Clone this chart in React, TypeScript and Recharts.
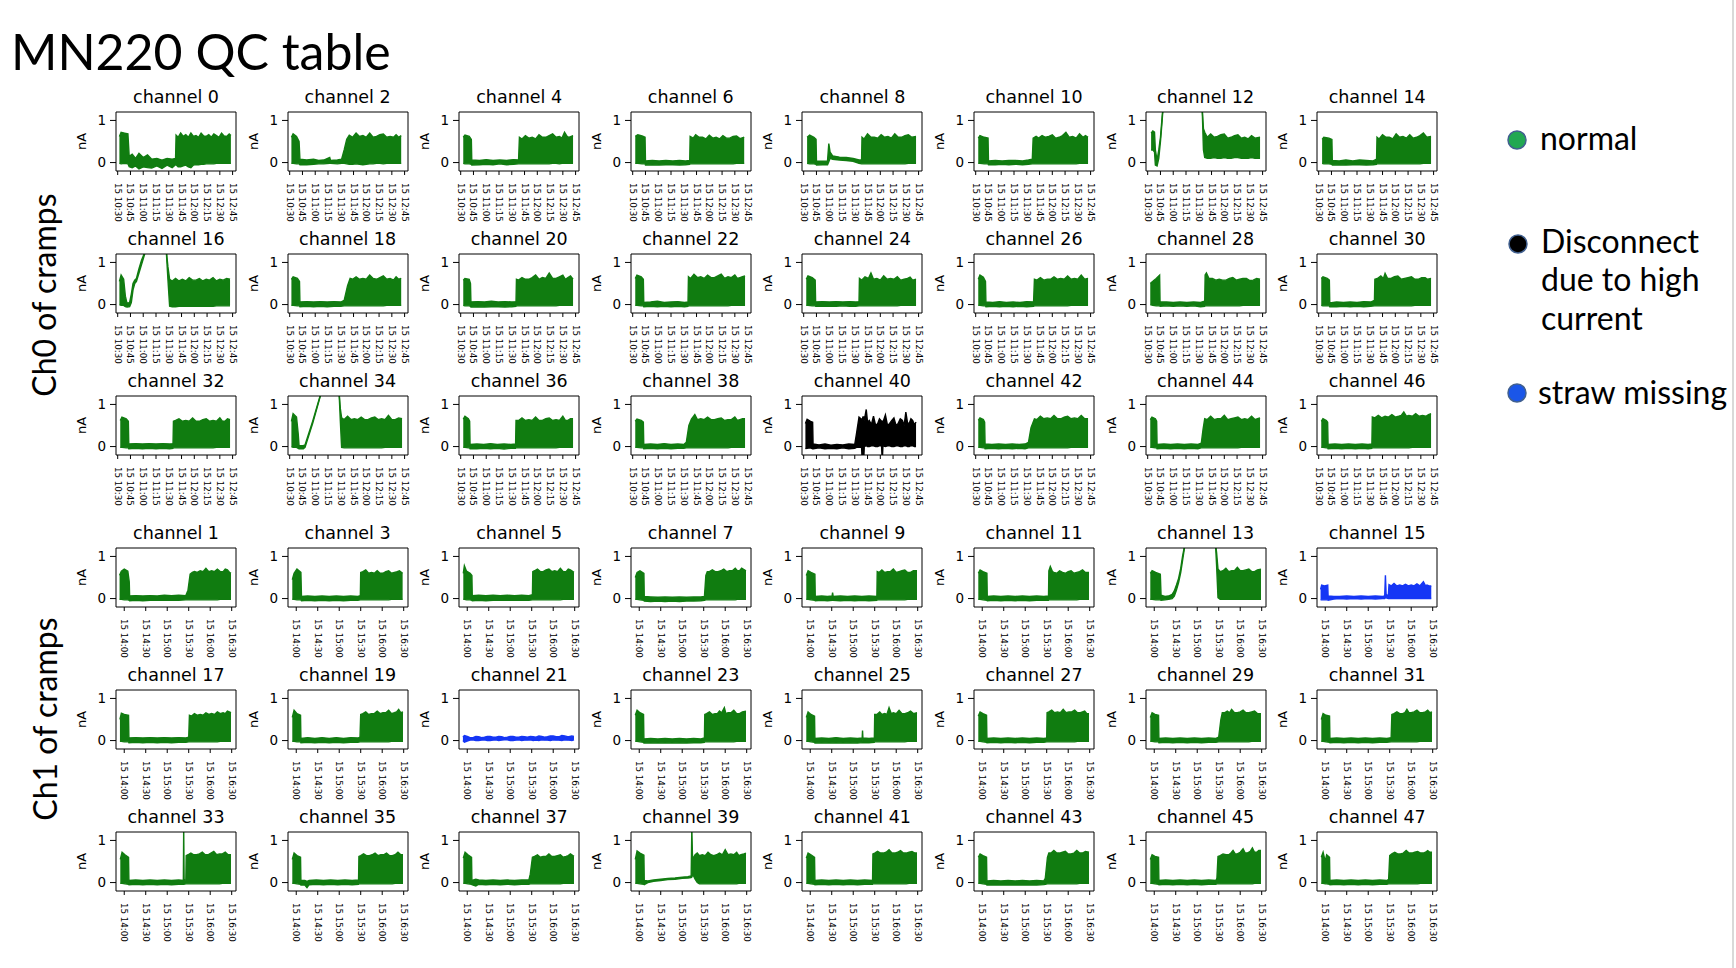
import React from 'react';
import { ComposedChart, Area, XAxis, YAxis, ReferenceArea } from 'recharts';

// ---------- tick definitions ----------
// group A (even channels): minutes after 10:00 ; group B (odd channels): minutes after 14:00
const TICKS_A = [30, 45, 60, 75, 90, 105, 120, 135, 150, 165];
const TICK_LABELS_A = ['15 10:30', '15 10:45', '15 11:00', '15 11:15', '15 11:30', '15 11:45', '15 12:00', '15 12:15', '15 12:30', '15 12:45'];
const TICKS_B = [0, 30, 60, 90, 120, 150];
const TICK_LABELS_B = ['15 14:00', '15 14:30', '15 15:00', '15 15:30', '15 16:00', '15 16:30'];
const Y_TICKS = [0, 1];
const Y_TICK_LABELS = ['0', '1'];

// ---------- channel data: [time, low, high] envelope points (nA) ----------
const ch0 = [[32,-0.02,0.62],[34,-0.03,0.72],[38,-0.02,0.7],[42,-0.03,0.68],[43.5,-0.1,0.15],[47,-0.12,0.2],[51,-0.08,0.1],[55,-0.15,0.22],[60,-0.1,0.12],[65,-0.12,0.18],[70,-0.13,0.08],[76,-0.08,0.1],[82,-0.14,0.06],[88,-0.06,0.1],[94,-0.12,0.08],[98,-0.05,0.1],[98.6,-0.05,0.65],[101,-0.1,0.6],[104,-0.1,0.7],[107,-0.08,0.62],[110,-0.06,0.66],[113,-0.1,0.6],[116,-0.12,0.7],[119,-0.06,0.62],[122,-0.05,0.64],[125,-0.05,0.6],[128,-0.04,0.7],[131,-0.04,0.63],[134,-0.03,0.62],[137,-0.03,0.66],[140,-0.03,0.6],[143,-0.03,0.68],[146,-0.02,0.64],[149,-0.02,0.6],[152,-0.02,0.7],[155,-0.02,0.63],[158,-0.02,0.62],[161,-0.02,0.68],[163,-0.02,0.64]];
const ch2 = [[32,-0.02,0.6],[34,-0.02,0.68],[38,-0.03,0.62],[41,-0.03,0.5],[42,-0.05,0.08],[50,-0.05,0.06],[58,-0.04,0.08],[64,-0.03,0.05],[70,-0.03,0.06],[77,-0.02,0.12],[78,-0.02,0.05],[86,-0.03,0.06],[91,-0.02,0.08],[94,-0.02,0.3],[97,-0.03,0.55],[100,-0.04,0.65],[104,-0.04,0.6],[108,-0.03,0.7],[112,-0.04,0.62],[116,-0.05,0.64],[120,-0.04,0.6],[124,-0.03,0.7],[128,-0.03,0.6],[132,-0.02,0.62],[136,-0.02,0.66],[140,-0.03,0.68],[144,-0.02,0.6],[148,-0.02,0.62],[152,-0.02,0.6],[155,-0.02,0.66],[158,-0.02,0.6],[161,-0.02,0.64]];
const ch4 = [[33,-0.02,0.6],[35,-0.03,0.65],[40,-0.03,0.62],[42.5,-0.04,0.55],[43,-0.06,0.06],[52,-0.05,0.05],[60,-0.04,0.07],[68,-0.05,0.05],[76,-0.03,0.06],[84,-0.05,0.05],[92,-0.04,0.07],[98,-0.03,0.06],[99,-0.03,0.6],[102,-0.03,0.56],[106,-0.03,0.64],[110,-0.03,0.58],[114,-0.03,0.6],[118,-0.03,0.56],[122,-0.03,0.66],[126,-0.03,0.6],[130,-0.03,0.6],[134,-0.03,0.64],[138,-0.02,0.68],[142,-0.02,0.6],[146,-0.03,0.62],[149,-0.02,0.58],[152,-0.02,0.72],[155,-0.02,0.62],[157,-0.02,0.6],[162,-0.02,0.64]];
const ch6 = [[33,-0.02,0.62],[36,-0.02,0.66],[41,-0.03,0.63],[44.5,-0.03,0.6],[45,-0.06,0.04],[53,-0.05,0.05],[61,-0.06,0.04],[69,-0.05,0.05],[77,-0.05,0.04],[85,-0.06,0.05],[92,-0.05,0.04],[97,-0.04,0.05],[97.5,-0.03,0.62],[101,-0.03,0.58],[104,-0.03,0.66],[108,-0.03,0.6],[112,-0.03,0.6],[116,-0.03,0.56],[120,-0.03,0.65],[124,-0.03,0.58],[128,-0.03,0.6],[132,-0.03,0.56],[136,-0.03,0.64],[140,-0.03,0.58],[144,-0.03,0.58],[148,-0.03,0.62],[152,-0.02,0.63],[156,-0.02,0.57],[161,-0.02,0.6]];
const ch8 = [[34,-0.02,0.6],[37,-0.03,0.65],[42,-0.03,0.6],[44.5,-0.04,0.55],[45,-0.06,0.03],[52,-0.05,0.03],[58,-0.05,0.04],[59.5,0.02,0.45],[61,0.1,0.25],[64,0.08,0.16],[72,0.06,0.13],[80,0.05,0.12],[88,0.03,0.1],[95,-0.02,0.06],[98,-0.03,0.06],[98.5,-0.03,0.6],[101,-0.03,0.56],[105,-0.03,0.68],[109,-0.03,0.6],[113,-0.03,0.6],[117,-0.03,0.58],[121,-0.03,0.66],[125,-0.03,0.6],[129,-0.03,0.62],[133,-0.03,0.58],[137,-0.03,0.68],[141,-0.03,0.6],[145,-0.03,0.6],[149,-0.03,0.64],[153,-0.02,0.66],[157,-0.02,0.6],[162,-0.02,0.62]];
const ch10 = [[33,-0.02,0.58],[35,-0.02,0.64],[40,-0.03,0.6],[44.5,-0.03,0.58],[45,-0.05,0.04],[53,-0.05,0.05],[61,-0.04,0.04],[69,-0.05,0.05],[77,-0.04,0.05],[85,-0.05,0.04],[92,-0.04,0.06],[96.5,-0.03,0.08],[97.5,-0.03,0.58],[101,-0.03,0.62],[104,-0.03,0.58],[108,-0.03,0.64],[112,-0.03,0.6],[116,-0.03,0.62],[120,-0.03,0.66],[124,-0.03,0.58],[128,-0.03,0.6],[132,-0.03,0.64],[136,-0.03,0.72],[140,-0.03,0.6],[144,-0.03,0.62],[148,-0.03,0.58],[152,-0.02,0.68],[156,-0.02,0.6],[159,-0.02,0.64],[162,-0.02,0.6]];
const ch12 = [[34,0.3,0.7],[36,0.3,0.75],[38,0.25,0.72],[39,-0.06,0.3],[41,-0.08,0.05],[43,0.1,0.3],[45,0.5,0.6],[47,1.0,1.1],[48,1.3,1.3],[94,1.3,1.3],[95.5,0.3,0.8],[97,0.12,0.72],[100,0.1,0.6],[104,0.1,0.68],[108,0.12,0.6],[112,0.1,0.62],[116,0.1,0.66],[120,0.12,0.68],[124,0.1,0.58],[128,0.1,0.6],[132,0.12,0.64],[136,0.12,0.66],[140,0.1,0.58],[144,0.1,0.6],[148,0.1,0.56],[152,0.12,0.64],[156,0.1,0.58],[162,0.1,0.6]];
const ch14 = [[34,-0.02,0.55],[36,-0.03,0.6],[42,-0.03,0.58],[45.5,-0.04,0.55],[46,-0.06,0.05],[54,-0.05,0.04],[62,-0.06,0.06],[70,-0.05,0.04],[78,-0.05,0.06],[86,-0.06,0.05],[94,-0.05,0.04],[98,-0.04,0.08],[98.5,-0.03,0.6],[101,-0.03,0.56],[105,-0.03,0.66],[109,-0.03,0.6],[113,-0.03,0.6],[117,-0.03,0.56],[121,-0.03,0.68],[125,-0.03,0.6],[129,-0.03,0.62],[133,-0.03,0.58],[137,-0.03,0.66],[141,-0.03,0.58],[145,-0.03,0.6],[149,-0.03,0.64],[153,-0.02,0.7],[157,-0.02,0.6],[162,-0.02,0.62]];
const ch16 = [[32,0.0,0.55],[34,-0.02,0.7],[37,-0.02,0.6],[39,-0.05,0.2],[41,-0.06,0.02],[44,-0.05,0.05],[46,0.05,0.25],[48,0.35,0.5],[50,0.5,0.58],[52,0.55,0.62],[55,0.75,0.85],[58,0.95,1.05],[61,1.15,1.2],[63,1.3,1.3],[87,1.3,1.3],[89,0.6,0.9],[91,-0.04,0.6],[94,-0.05,0.56],[98,-0.05,0.62],[102,-0.04,0.56],[106,-0.04,0.6],[110,-0.04,0.56],[114,-0.04,0.64],[118,-0.04,0.58],[122,-0.04,0.58],[126,-0.04,0.62],[130,-0.04,0.56],[134,-0.04,0.6],[138,-0.04,0.58],[142,-0.04,0.64],[146,-0.03,0.56],[150,-0.03,0.6],[154,-0.03,0.58],[158,-0.03,0.62],[162,-0.03,0.6]];
const ch18 = [[32,-0.02,0.6],[34,-0.02,0.66],[39,-0.03,0.62],[41.5,-0.03,0.55],[42,-0.05,0.06],[50,-0.04,0.07],[58,-0.05,0.06],[66,-0.04,0.07],[74,-0.05,0.06],[82,-0.04,0.07],[90,-0.04,0.06],[94,-0.03,0.1],[98,-0.03,0.45],[101,-0.03,0.62],[104,-0.03,0.6],[108,-0.03,0.66],[112,-0.03,0.6],[116,-0.03,0.62],[120,-0.03,0.6],[124,-0.03,0.7],[128,-0.03,0.62],[132,-0.03,0.6],[136,-0.03,0.64],[140,-0.03,0.68],[144,-0.02,0.6],[148,-0.02,0.62],[152,-0.02,0.58],[155,-0.02,0.66],[158,-0.02,0.6],[161,-0.02,0.62]];
const ch20 = [[33,-0.02,0.58],[35,-0.03,0.62],[40,-0.03,0.6],[41.5,-0.04,0.5],[42,-0.06,0.06],[50,-0.05,0.07],[58,-0.06,0.06],[66,-0.05,0.08],[74,-0.05,0.06],[82,-0.06,0.07],[90,-0.05,0.06],[95,-0.04,0.07],[95.5,-0.03,0.6],[98,-0.03,0.58],[102,-0.03,0.64],[106,-0.03,0.6],[110,-0.03,0.6],[114,-0.03,0.64],[118,-0.03,0.7],[122,-0.03,0.6],[126,-0.03,0.64],[130,-0.03,0.62],[134,-0.03,0.75],[138,-0.03,0.62],[142,-0.03,0.62],[146,-0.02,0.66],[150,-0.02,0.7],[153,-0.02,0.6],[156,-0.02,0.64],[159,-0.02,0.68],[162,-0.02,0.6]];
const ch22 = [[33,-0.02,0.62],[35,-0.02,0.7],[40,-0.03,0.66],[42.5,-0.03,0.6],[43,-0.05,0.05],[51,-0.04,0.06],[59,-0.05,0.08],[67,-0.04,0.05],[75,-0.05,0.06],[83,-0.04,0.07],[91,-0.05,0.05],[95,-0.04,0.06],[95.5,-0.03,0.66],[98,-0.03,0.62],[102,-0.03,0.72],[106,-0.03,0.64],[110,-0.03,0.66],[114,-0.03,0.62],[118,-0.03,0.7],[122,-0.03,0.64],[126,-0.03,0.64],[130,-0.03,0.68],[134,-0.03,0.72],[138,-0.03,0.62],[142,-0.03,0.66],[146,-0.02,0.64],[150,-0.02,0.7],[153,-0.02,0.62],[156,-0.02,0.64],[159,-0.02,0.66],[162,-0.02,0.68]];
const ch24 = [[33,-0.02,0.6],[35,-0.02,0.68],[40,-0.03,0.64],[43.5,-0.03,0.58],[44,-0.04,0.06],[52,-0.04,0.07],[60,-0.04,0.06],[68,-0.04,0.07],[76,-0.03,0.06],[84,-0.04,0.07],[91,-0.04,0.06],[95,-0.03,0.07],[95.5,-0.03,0.62],[98,-0.03,0.58],[102,-0.03,0.66],[106,-0.03,0.62],[109,-0.03,0.75],[112,-0.03,0.6],[116,-0.03,0.62],[120,-0.03,0.58],[124,-0.03,0.68],[128,-0.03,0.6],[132,-0.03,0.62],[136,-0.03,0.6],[140,-0.03,0.66],[144,-0.02,0.58],[148,-0.02,0.6],[152,-0.02,0.62],[155,-0.02,0.65],[158,-0.02,0.58],[162,-0.02,0.6]];
const ch26 = [[33,-0.02,0.6],[35,-0.02,0.7],[39,-0.03,0.65],[41.5,-0.03,0.55],[42,-0.05,0.06],[50,-0.04,0.05],[58,-0.05,0.07],[66,-0.04,0.05],[74,-0.05,0.06],[82,-0.04,0.05],[90,-0.05,0.07],[98,-0.04,0.06],[99,-0.03,0.6],[102,-0.03,0.58],[106,-0.03,0.64],[110,-0.03,0.58],[114,-0.03,0.6],[118,-0.03,0.6],[122,-0.03,0.66],[126,-0.03,0.6],[130,-0.03,0.62],[134,-0.03,0.6],[138,-0.03,0.68],[142,-0.02,0.6],[146,-0.02,0.62],[150,-0.02,0.6],[154,-0.02,0.7],[158,-0.02,0.6],[162,-0.02,0.62]];
const ch28 = [[33,0.0,0.5],[36,-0.02,0.55],[40,-0.03,0.62],[44,-0.03,0.7],[44.5,-0.04,0.06],[52,-0.03,0.06],[60,-0.04,0.05],[68,-0.03,0.06],[76,-0.04,0.05],[84,-0.03,0.06],[92,-0.05,0.05],[97,-0.04,0.08],[97.5,-0.03,0.7],[99,-0.03,0.75],[102,-0.03,0.62],[106,-0.03,0.62],[110,-0.03,0.58],[114,-0.03,0.6],[118,-0.03,0.58],[122,-0.03,0.58],[126,-0.03,0.62],[130,-0.03,0.64],[134,-0.03,0.58],[138,-0.03,0.6],[142,-0.02,0.62],[146,-0.02,0.62],[150,-0.02,0.57],[154,-0.02,0.58],[158,-0.02,0.62],[162,-0.02,0.6]];
const ch30 = [[33,-0.02,0.62],[35,-0.03,0.66],[40,-0.03,0.62],[42.5,-0.03,0.58],[43,-0.05,0.04],[51,-0.05,0.06],[59,-0.04,0.05],[67,-0.05,0.06],[75,-0.04,0.05],[83,-0.05,0.07],[91,-0.04,0.06],[95.5,-0.03,0.1],[96,-0.03,0.6],[99,-0.03,0.62],[103,-0.03,0.68],[106,-0.03,0.62],[108,-0.03,0.74],[111,-0.03,0.62],[115,-0.03,0.62],[119,-0.03,0.66],[123,-0.03,0.68],[127,-0.03,0.6],[131,-0.03,0.62],[135,-0.03,0.64],[139,-0.03,0.66],[143,-0.02,0.6],[147,-0.02,0.6],[151,-0.02,0.64],[155,-0.02,0.64],[158,-0.02,0.6],[162,-0.02,0.62]];
const ch32 = [[33,-0.02,0.62],[35,-0.02,0.7],[40,-0.03,0.66],[42.5,-0.03,0.6],[43,-0.05,0.06],[51,-0.04,0.07],[59,-0.05,0.06],[67,-0.04,0.07],[75,-0.05,0.06],[83,-0.04,0.07],[91,-0.05,0.06],[95,-0.04,0.07],[95.5,-0.03,0.6],[98,-0.03,0.62],[102,-0.03,0.66],[106,-0.03,0.6],[110,-0.03,0.62],[114,-0.03,0.6],[118,-0.03,0.68],[122,-0.03,0.6],[126,-0.03,0.6],[130,-0.03,0.64],[134,-0.03,0.66],[138,-0.03,0.6],[142,-0.03,0.62],[146,-0.02,0.6],[150,-0.02,0.68],[153,-0.02,0.6],[156,-0.02,0.6],[159,-0.02,0.66],[162,-0.02,0.64]];
const ch34 = [[32,0.0,0.6],[34,-0.02,0.78],[38,-0.02,0.7],[40,-0.04,0.3],[41,-0.05,0.02],[46,-0.05,0.02],[48,-0.02,0.04],[57,0.55,0.6],[66,1.2,1.22],[67,1.3,1.3],[88,1.3,1.3],[89.5,0.6,0.9],[91,-0.02,0.68],[94,-0.03,0.64],[98,-0.03,0.72],[102,-0.03,0.64],[106,-0.03,0.66],[110,-0.03,0.64],[114,-0.03,0.7],[118,-0.03,0.64],[122,-0.03,0.64],[126,-0.03,0.68],[130,-0.03,0.7],[134,-0.03,0.64],[138,-0.03,0.66],[142,-0.02,0.64],[146,-0.02,0.74],[150,-0.02,0.64],[154,-0.02,0.64],[158,-0.02,0.68],[162,-0.02,0.66]];
const ch36 = [[33,-0.02,0.65],[35,-0.02,0.72],[39,-0.03,0.66],[40.5,-0.03,0.6],[41,-0.05,0.05],[49,-0.05,0.06],[57,-0.04,0.05],[65,-0.05,0.07],[73,-0.04,0.05],[81,-0.06,0.06],[89,-0.04,0.05],[94.5,-0.04,0.06],[95,-0.03,0.62],[98,-0.03,0.62],[102,-0.03,0.68],[106,-0.03,0.62],[110,-0.03,0.64],[114,-0.03,0.62],[118,-0.03,0.7],[122,-0.03,0.62],[126,-0.03,0.62],[130,-0.03,0.66],[134,-0.03,0.68],[138,-0.03,0.62],[142,-0.03,0.64],[146,-0.02,0.62],[150,-0.02,0.72],[153,-0.02,0.62],[156,-0.02,0.62],[159,-0.02,0.66],[162,-0.02,0.66]];
const ch38 = [[33,-0.02,0.6],[35,-0.02,0.65],[40,-0.03,0.62],[42.5,-0.03,0.58],[43,-0.05,0.05],[51,-0.04,0.06],[59,-0.05,0.05],[67,-0.04,0.07],[75,-0.05,0.05],[83,-0.04,0.06],[90,-0.04,0.05],[93,-0.03,0.1],[96,-0.03,0.5],[99,-0.03,0.65],[103,-0.03,0.76],[106,-0.03,0.64],[110,-0.03,0.66],[114,-0.03,0.64],[118,-0.03,0.7],[122,-0.03,0.64],[126,-0.03,0.64],[130,-0.03,0.66],[134,-0.03,0.68],[138,-0.03,0.62],[142,-0.03,0.64],[146,-0.02,0.64],[150,-0.02,0.7],[153,-0.02,0.62],[156,-0.02,0.64],[159,-0.02,0.66],[162,-0.02,0.66]];
const ch40 = [[32,-0.05,0.55],[34,-0.04,0.65],[38,-0.03,0.6],[40.5,-0.05,0.58],[41,-0.05,0.06],[48,-0.03,0.04],[55,-0.05,0.06],[62,-0.04,0.03],[69,-0.05,0.05],[76,-0.03,0.04],[83,-0.05,0.06],[90,-0.04,0.05],[92,-0.02,0.3],[95,-0.02,0.7],[98,-0.02,0.65],[98.8,-0.35,0.65],[99.6,-0.02,0.7],[100.4,-0.35,0.7],[101.2,0.0,0.62],[103.5,0.02,0.88],[105,0.0,0.58],[107,0.0,0.62],[109.5,0.02,0.52],[112,0.02,0.72],[114.5,0.0,0.5],[117,0.0,0.55],[119,0.02,0.66],[121.5,0.02,0.6],[122.3,-0.35,0.6],[123.1,0.02,0.58],[126,0.0,0.75],[128.5,0.02,0.5],[131,0.02,0.55],[133.5,0.0,0.62],[136,0.0,0.68],[138.5,0.02,0.5],[141,0.02,0.55],[143.5,0.0,0.66],[146,0.0,0.62],[148,0.02,0.5],[150,0.02,0.82],[152,0.0,0.56],[154,0.0,0.55],[156,0.02,0.66],[158,0.02,0.62],[160,0.0,0.52],[162,0.0,0.58]];
const ch42 = [[33,-0.02,0.62],[35,-0.02,0.68],[39,-0.03,0.64],[40.5,-0.03,0.58],[41,-0.05,0.06],[49,-0.04,0.05],[57,-0.05,0.06],[65,-0.04,0.05],[73,-0.05,0.06],[81,-0.04,0.05],[88,-0.05,0.06],[92,-0.03,0.1],[95,-0.03,0.45],[99,-0.03,0.66],[102,-0.03,0.64],[106,-0.03,0.72],[110,-0.03,0.66],[114,-0.03,0.68],[118,-0.03,0.66],[122,-0.03,0.74],[126,-0.03,0.66],[130,-0.03,0.66],[134,-0.03,0.7],[138,-0.03,0.72],[142,-0.02,0.66],[146,-0.02,0.68],[150,-0.02,0.66],[154,-0.02,0.74],[158,-0.02,0.66],[162,-0.02,0.66]];
const ch44 = [[33,-0.02,0.64],[35,-0.02,0.7],[39,-0.03,0.66],[40.5,-0.03,0.6],[41,-0.05,0.05],[49,-0.04,0.06],[57,-0.05,0.05],[65,-0.04,0.06],[73,-0.05,0.05],[81,-0.04,0.06],[89,-0.05,0.05],[93,-0.03,0.08],[95,-0.03,0.4],[97,-0.03,0.66],[100,-0.03,0.64],[104,-0.03,0.72],[108,-0.03,0.64],[112,-0.03,0.66],[116,-0.03,0.66],[120,-0.03,0.74],[124,-0.03,0.64],[128,-0.03,0.66],[132,-0.03,0.68],[136,-0.03,0.7],[140,-0.02,0.64],[144,-0.02,0.66],[148,-0.02,0.64],[152,-0.02,0.72],[156,-0.02,0.64],[159,-0.02,0.66],[162,-0.02,0.68]];
const ch46 = [[33,-0.02,0.6],[35,-0.02,0.66],[39,-0.03,0.62],[40.5,-0.03,0.58],[41,-0.05,0.05],[49,-0.04,0.06],[57,-0.05,0.05],[65,-0.04,0.06],[73,-0.05,0.05],[81,-0.04,0.06],[88,-0.05,0.05],[92.5,-0.04,0.06],[93,-0.03,0.7],[96,-0.03,0.68],[100,-0.03,0.74],[104,-0.03,0.68],[108,-0.03,0.72],[112,-0.03,0.7],[116,-0.03,0.76],[120,-0.03,0.7],[124,-0.03,0.72],[127,-0.03,0.74],[130,-0.03,0.82],[133,-0.03,0.72],[136,-0.03,0.74],[140,-0.02,0.72],[144,-0.02,0.78],[148,-0.02,0.72],[152,-0.02,0.74],[156,-0.02,0.72],[159,-0.02,0.76],[162,-0.02,0.78]];

const ch1 = [[-6.5,-0.02,0.55],[-4,-0.02,0.65],[0,-0.03,0.7],[5,-0.03,0.65],[7,-0.04,0.4],[7.5,-0.05,0.06],[16,-0.04,0.07],[26,-0.05,0.06],[36,-0.04,0.07],[46,-0.04,0.06],[56,-0.04,0.08],[66,-0.04,0.07],[76,-0.04,0.08],[86,-0.03,0.07],[89,-0.03,0.2],[92,-0.03,0.58],[95,-0.03,0.62],[98,-0.03,0.64],[102,-0.03,0.62],[106,-0.03,0.66],[110,-0.03,0.64],[114,-0.03,0.72],[118,-0.03,0.64],[122,-0.03,0.66],[126,-0.03,0.64],[130,-0.03,0.7],[134,-0.02,0.64],[138,-0.02,0.64],[141,-0.02,0.7],[144,-0.02,0.68],[147,-0.02,0.62],[149,-0.02,0.6]];
const ch3 = [[-5.5,-0.02,0.45],[-3,-0.02,0.6],[1,-0.03,0.7],[6.5,-0.03,0.62],[7.3,-0.05,0.05],[16,-0.04,0.06],[26,-0.05,0.05],[36,-0.04,0.06],[46,-0.05,0.05],[56,-0.04,0.06],[66,-0.05,0.05],[76,-0.04,0.06],[86,-0.04,0.05],[89.5,-0.03,0.07],[90,-0.03,0.62],[93,-0.03,0.64],[97,-0.03,0.68],[101,-0.03,0.6],[105,-0.03,0.62],[109,-0.03,0.6],[113,-0.03,0.66],[117,-0.03,0.6],[121,-0.03,0.6],[125,-0.03,0.64],[129,-0.03,0.66],[133,-0.02,0.6],[137,-0.02,0.62],[141,-0.02,0.64],[144,-0.02,0.66],[148.5,-0.02,0.6]];
const ch5 = [[-5.5,-0.02,0.6],[-4,-0.02,0.78],[-1,-0.03,0.65],[4,-0.03,0.6],[6.5,-0.04,0.55],[7,-0.05,0.07],[16,-0.04,0.08],[26,-0.05,0.07],[36,-0.04,0.08],[46,-0.04,0.07],[56,-0.04,0.08],[66,-0.04,0.07],[76,-0.04,0.08],[86,-0.04,0.07],[91,-0.03,0.09],[91.5,-0.03,0.64],[94,-0.03,0.66],[98,-0.03,0.7],[102,-0.03,0.64],[106,-0.03,0.64],[110,-0.03,0.68],[114,-0.03,0.7],[118,-0.03,0.64],[122,-0.03,0.66],[126,-0.03,0.64],[130,-0.03,0.72],[134,-0.02,0.64],[138,-0.02,0.64],[141,-0.02,0.7],[144,-0.02,0.68],[149,-0.02,0.62]];
const ch7 = [[-5.5,-0.02,0.5],[-3,-0.02,0.62],[1,-0.03,0.66],[6.5,-0.04,0.6],[7,-0.06,0.05],[16,-0.07,0.04],[26,-0.06,0.03],[36,-0.07,0.04],[46,-0.06,0.03],[56,-0.07,0.04],[66,-0.06,0.03],[76,-0.06,0.04],[86,-0.05,0.04],[91,-0.04,0.05],[93,-0.03,0.55],[95,-0.03,0.64],[98,-0.03,0.64],[102,-0.03,0.68],[106,-0.03,0.64],[110,-0.03,0.64],[114,-0.03,0.66],[118,-0.03,0.7],[122,-0.03,0.64],[126,-0.03,0.66],[130,-0.03,0.66],[134,-0.03,0.72],[137,-0.02,0.66],[140,-0.02,0.66],[143,-0.02,0.72],[145,-0.02,0.7],[149,-0.02,0.66]];
const ch9 = [[-5.5,-0.02,0.55],[-3,-0.02,0.66],[1,-0.03,0.62],[6.5,-0.04,0.58],[7,-0.05,0.05],[16,-0.04,0.06],[24,-0.05,0.05],[30.5,-0.04,0.06],[31.2,-0.02,0.14],[32,-0.04,0.05],[42,-0.05,0.06],[52,-0.04,0.05],[62,-0.05,0.06],[72,-0.04,0.05],[82,-0.05,0.06],[93,-0.04,0.05],[93.5,-0.03,0.64],[96,-0.03,0.62],[100,-0.03,0.68],[104,-0.03,0.62],[108,-0.03,0.64],[112,-0.03,0.64],[116,-0.03,0.7],[120,-0.03,0.62],[124,-0.03,0.64],[128,-0.03,0.66],[132,-0.03,0.68],[136,-0.02,0.62],[140,-0.02,0.62],[144,-0.02,0.66],[149,-0.02,0.66]];
const ch11 = [[-5.5,-0.02,0.6],[-3,-0.02,0.68],[1,-0.03,0.64],[6.5,-0.04,0.6],[7,-0.05,0.05],[16,-0.04,0.06],[26,-0.05,0.05],[36,-0.04,0.06],[46,-0.05,0.05],[56,-0.04,0.06],[66,-0.05,0.05],[76,-0.04,0.06],[86,-0.04,0.05],[92.5,-0.04,0.06],[93,-0.03,0.66],[95,-0.03,0.76],[98,-0.03,0.64],[100,-0.03,0.62],[104,-0.03,0.6],[108,-0.03,0.66],[112,-0.03,0.62],[116,-0.03,0.6],[120,-0.03,0.64],[124,-0.03,0.66],[128,-0.03,0.6],[132,-0.03,0.62],[136,-0.02,0.64],[140,-0.02,0.68],[144,-0.02,0.62],[149,-0.02,0.62]];
const ch13 = [[-5.5,-0.02,0.6],[-3,-0.02,0.66],[2,-0.03,0.62],[8.5,-0.03,0.58],[9.5,-0.04,0.08],[15,-0.03,0.05],[20,-0.02,0.06],[25,0.0,0.1],[28,0.06,0.18],[31,0.2,0.32],[34,0.38,0.48],[37,0.62,0.72],[39.5,0.9,1.0],[42,1.18,1.22],[43,1.3,1.3],[85.5,1.3,1.3],[87,0.8,1.1],[89,0.02,0.7],[92,-0.02,0.64],[96,-0.02,0.66],[100,-0.02,0.72],[104,-0.02,0.64],[108,-0.02,0.66],[112,-0.02,0.66],[116,-0.02,0.74],[120,-0.02,0.66],[124,-0.02,0.66],[128,-0.02,0.68],[132,-0.02,0.7],[136,-0.02,0.64],[140,-0.02,0.64],[144,-0.02,0.68],[149,-0.02,0.7]];
const ch15 = [[-6.5,-0.03,0.22],[-5,-0.03,0.32],[-1,-0.03,0.3],[3.5,-0.03,0.32],[4,-0.04,0.06],[12,-0.01,0.05],[20,0.0,0.05],[30,-0.01,0.06],[40,0.0,0.05],[50,-0.01,0.06],[60,0.0,0.05],[70,-0.01,0.06],[80,0.0,0.05],[83,0.0,0.06],[84,0.02,0.55],[85,0.02,0.1],[88,0.0,0.06],[89,0.0,0.33],[92,0.0,0.3],[96,0.0,0.36],[100,0.0,0.3],[104,0.0,0.32],[108,0.0,0.3],[112,0.0,0.34],[116,0.0,0.3],[120,0.0,0.32],[124,0.0,0.3],[128,0.0,0.35],[132,0.0,0.3],[137,0.0,0.4],[140,0.0,0.3],[142,0.0,0.32],[145,0.0,0.3],[148,0.0,0.3]];
const ch17 = [[-6,-0.02,0.5],[-4,-0.02,0.65],[0,-0.03,0.62],[6,-0.03,0.6],[6.5,-0.05,0.06],[16,-0.04,0.07],[26,-0.05,0.06],[36,-0.04,0.07],[46,-0.05,0.06],[56,-0.04,0.07],[66,-0.05,0.06],[76,-0.04,0.07],[86,-0.04,0.06],[90,-0.03,0.08],[91,-0.03,0.6],[94,-0.03,0.58],[98,-0.03,0.64],[102,-0.03,0.6],[106,-0.03,0.62],[110,-0.03,0.6],[114,-0.03,0.66],[118,-0.03,0.62],[122,-0.03,0.64],[126,-0.03,0.62],[130,-0.03,0.68],[134,-0.02,0.64],[138,-0.02,0.66],[141,-0.02,0.64],[144,-0.02,0.7],[149,-0.02,0.66]];
const ch19 = [[-5.5,-0.02,0.55],[-3,-0.02,0.72],[1,-0.03,0.64],[6,-0.03,0.6],[6.5,-0.05,0.05],[16,-0.04,0.07],[26,-0.05,0.05],[36,-0.04,0.07],[46,-0.05,0.05],[56,-0.04,0.07],[66,-0.05,0.05],[76,-0.04,0.07],[86,-0.04,0.06],[89,-0.03,0.08],[90,-0.03,0.62],[93,-0.03,0.64],[97,-0.03,0.68],[101,-0.03,0.62],[105,-0.03,0.64],[109,-0.03,0.64],[113,-0.03,0.7],[117,-0.03,0.64],[121,-0.03,0.66],[125,-0.03,0.66],[129,-0.03,0.72],[133,-0.02,0.64],[137,-0.02,0.66],[140,-0.02,0.68],[143,-0.02,0.74],[146,-0.02,0.66],[149,-0.02,0.68]];
const ch21 = [[-6,0.0,0.08],[-4,-0.04,0.12],[0,-0.01,0.1],[4,0.01,0.07],[8,0.02,0.07],[12,0.0,0.1],[16,0.0,0.09],[20,0.01,0.07],[24,0.02,0.08],[28,0.0,0.1],[32,0.0,0.1],[36,0.01,0.08],[40,0.02,0.08],[44,0.0,0.1],[48,0.01,0.09],[52,0.02,0.07],[56,0.02,0.08],[60,0.0,0.1],[64,0.0,0.1],[68,0.01,0.08],[72,0.02,0.08],[76,0.0,0.1],[80,0.01,0.09],[84,0.01,0.08],[88,0.02,0.1],[92,0.0,0.09],[96,0.01,0.08],[100,0.0,0.11],[104,0.02,0.1],[108,0.01,0.08],[112,0.01,0.09],[116,0.0,0.11],[120,0.02,0.11],[124,0.01,0.09],[128,0.01,0.09],[132,0.0,0.12],[136,0.02,0.11],[140,0.01,0.09],[142,0.01,0.09],[146,0.0,0.11],[149,0.02,0.1]];
const ch23 = [[-5.5,-0.02,0.6],[-3,-0.02,0.72],[1,-0.03,0.66],[6,-0.04,0.62],[6.5,-0.06,0.04],[16,-0.05,0.05],[26,-0.06,0.04],[36,-0.05,0.05],[46,-0.06,0.04],[56,-0.05,0.05],[66,-0.06,0.04],[76,-0.05,0.05],[86,-0.05,0.04],[91,-0.04,0.06],[91.5,-0.03,0.62],[94,-0.03,0.64],[98,-0.03,0.68],[102,-0.03,0.62],[106,-0.03,0.64],[109,-0.03,0.64],[112,-0.03,0.7],[115,-0.03,0.66],[118.8,-0.03,0.78],[121,-0.03,0.64],[124,-0.03,0.66],[128,-0.03,0.66],[132,-0.03,0.72],[136,-0.02,0.64],[140,-0.02,0.64],[144,-0.02,0.68],[149,-0.02,0.7]];
const ch25 = [[-5.5,-0.02,0.55],[-3,-0.02,0.68],[1,-0.03,0.62],[6,-0.04,0.58],[6.5,-0.06,0.05],[16,-0.05,0.06],[26,-0.06,0.05],[36,-0.05,0.07],[46,-0.06,0.05],[56,-0.05,0.06],[66,-0.06,0.05],[72.5,-0.05,0.06],[73,0.0,0.24],[73.5,-0.05,0.06],[82,-0.05,0.05],[89.5,-0.04,0.06],[90,-0.03,0.62],[93,-0.03,0.62],[97,-0.03,0.68],[100,-0.03,0.62],[104,-0.03,0.64],[107,-0.03,0.62],[110,-0.03,0.78],[113,-0.03,0.64],[116,-0.03,0.66],[120,-0.03,0.64],[124,-0.03,0.72],[128,-0.03,0.64],[132,-0.03,0.64],[136,-0.02,0.66],[140,-0.02,0.7],[144,-0.02,0.64],[149,-0.02,0.66]];
const ch27 = [[-5.5,-0.02,0.58],[-3,-0.02,0.68],[1,-0.03,0.64],[6,-0.04,0.6],[6.5,-0.05,0.05],[16,-0.04,0.06],[26,-0.05,0.05],[36,-0.04,0.06],[46,-0.05,0.05],[56,-0.04,0.06],[66,-0.05,0.05],[76,-0.04,0.06],[86,-0.04,0.05],[90,-0.03,0.06],[90.5,-0.03,0.66],[93,-0.03,0.68],[97,-0.03,0.72],[101,-0.03,0.66],[105,-0.03,0.68],[109,-0.03,0.66],[113,-0.03,0.74],[117,-0.03,0.66],[121,-0.03,0.68],[125,-0.03,0.68],[129,-0.03,0.72],[133,-0.02,0.66],[137,-0.02,0.66],[140,-0.02,0.68],[143,-0.02,0.7],[146,-0.02,0.64],[149,-0.02,0.64]];
const ch29 = [[-5.5,-0.02,0.55],[-3,-0.02,0.66],[1,-0.03,0.62],[6,-0.03,0.6],[6.5,-0.05,0.05],[16,-0.04,0.06],[26,-0.05,0.05],[36,-0.04,0.06],[46,-0.05,0.05],[56,-0.04,0.06],[66,-0.05,0.05],[76,-0.04,0.06],[86,-0.04,0.05],[90,-0.03,0.08],[93,-0.03,0.5],[95,-0.03,0.66],[98,-0.03,0.66],[102,-0.03,0.7],[105,-0.03,0.66],[108,-0.03,0.74],[112,-0.03,0.66],[116,-0.03,0.66],[120,-0.03,0.68],[124,-0.03,0.72],[128,-0.03,0.66],[132,-0.03,0.66],[136,-0.02,0.68],[140,-0.02,0.7],[144,-0.02,0.64],[149,-0.02,0.64]];
const ch31 = [[-5.5,-0.02,0.5],[-3,-0.02,0.64],[1,-0.03,0.6],[6,-0.04,0.58],[6.5,-0.05,0.05],[16,-0.04,0.06],[26,-0.05,0.05],[36,-0.04,0.06],[46,-0.05,0.05],[56,-0.04,0.06],[66,-0.05,0.05],[76,-0.04,0.06],[86,-0.04,0.05],[92,-0.03,0.07],[93,-0.03,0.62],[96,-0.03,0.64],[100,-0.03,0.68],[104,-0.03,0.64],[108,-0.03,0.64],[111,-0.03,0.66],[114,-0.03,0.74],[117,-0.03,0.66],[120,-0.03,0.66],[124,-0.03,0.68],[128,-0.03,0.72],[132,-0.02,0.66],[136,-0.02,0.66],[140,-0.02,0.68],[143,-0.02,0.72],[146,-0.02,0.66],[149,-0.02,0.68]];
const ch33 = [[-5.5,-0.02,0.55],[-3,-0.02,0.72],[1,-0.03,0.66],[6,-0.04,0.6],[6.5,-0.05,0.05],[16,-0.04,0.06],[26,-0.05,0.05],[36,-0.04,0.06],[46,-0.05,0.05],[56,-0.04,0.06],[66,-0.05,0.05],[76,-0.04,0.06],[82.5,-0.04,0.05],[83,-0.02,1.3],[83.6,-0.04,0.05],[86,-0.03,0.06],[86.5,-0.03,0.64],[89,-0.03,0.66],[93,-0.03,0.7],[97,-0.03,0.66],[101,-0.03,0.66],[105,-0.03,0.68],[109,-0.03,0.72],[113,-0.03,0.66],[117,-0.03,0.66],[121,-0.03,0.7],[125,-0.03,0.74],[129,-0.03,0.66],[133,-0.03,0.68],[137,-0.02,0.68],[141,-0.02,0.72],[145,-0.02,0.66],[149,-0.02,0.66]];
const ch35 = [[-5.5,-0.02,0.55],[-3,-0.02,0.7],[1,-0.03,0.64],[6,-0.04,0.6],[6.5,-0.06,0.05],[12,-0.06,0.05],[15,-0.12,0.03],[18,-0.05,0.05],[28,-0.04,0.06],[38,-0.05,0.05],[48,-0.04,0.06],[58,-0.05,0.05],[68,-0.04,0.06],[78,-0.05,0.05],[87,-0.04,0.06],[87.5,-0.03,0.62],[90,-0.03,0.64],[94,-0.03,0.68],[98,-0.03,0.64],[102,-0.03,0.64],[106,-0.03,0.66],[110,-0.03,0.7],[114,-0.03,0.64],[118,-0.03,0.66],[122,-0.03,0.66],[126,-0.03,0.7],[130,-0.03,0.64],[134,-0.03,0.64],[138,-0.02,0.66],[142,-0.02,0.72],[146,-0.02,0.66],[149,-0.02,0.66]];
const ch37 = [[-5.5,-0.02,0.58],[-3,-0.02,0.72],[1,-0.03,0.66],[6,-0.04,0.6],[6.5,-0.05,0.05],[12,-0.08,0.08],[16,-0.04,0.06],[26,-0.05,0.05],[36,-0.04,0.06],[46,-0.05,0.05],[56,-0.04,0.06],[66,-0.05,0.05],[76,-0.04,0.06],[86,-0.04,0.06],[88,-0.03,0.2],[91,-0.03,0.6],[94,-0.03,0.62],[98,-0.03,0.66],[102,-0.03,0.6],[106,-0.03,0.62],[110,-0.03,0.62],[114,-0.03,0.68],[118,-0.03,0.62],[122,-0.03,0.62],[126,-0.03,0.64],[130,-0.03,0.66],[134,-0.02,0.6],[138,-0.02,0.62],[141,-0.02,0.64],[144,-0.02,0.68],[149,-0.02,0.62]];
const ch39 = [[-5.5,-0.02,0.55],[-3,-0.02,0.75],[1,-0.03,0.7],[6.5,-0.04,0.65],[7,-0.05,0.05],[12,0.0,0.04],[20,0.03,0.06],[30,0.05,0.08],[40,0.07,0.1],[50,0.08,0.11],[60,0.1,0.13],[68,0.11,0.14],[72.5,0.12,0.16],[73.4,0.13,1.3],[74.5,0.2,0.48],[76,0.15,0.6],[78,0.08,0.66],[81,0.0,0.7],[84,-0.03,0.64],[88,-0.03,0.66],[92,-0.03,0.64],[96,-0.03,0.72],[100,-0.03,0.66],[104,-0.03,0.64],[108,-0.03,0.66],[112,-0.03,0.7],[116,-0.03,0.66],[120,-0.03,0.78],[124,-0.03,0.66],[128,-0.03,0.68],[132,-0.03,0.66],[136,-0.03,0.72],[139,-0.02,0.64],[142,-0.02,0.66],[146,-0.02,0.68],[149,-0.02,0.7]];
const ch41 = [[-5.5,-0.02,0.58],[-3,-0.02,0.7],[1,-0.03,0.66],[6,-0.04,0.6],[6.5,-0.05,0.05],[16,-0.04,0.06],[26,-0.05,0.05],[36,-0.04,0.06],[46,-0.05,0.05],[56,-0.04,0.06],[66,-0.05,0.05],[76,-0.04,0.06],[87,-0.04,0.05],[87.5,-0.03,0.68],[90,-0.03,0.7],[94,-0.03,0.74],[98,-0.03,0.7],[102,-0.03,0.7],[106,-0.03,0.72],[110,-0.03,0.78],[114,-0.03,0.7],[118,-0.03,0.7],[122,-0.03,0.72],[126,-0.03,0.76],[130,-0.03,0.7],[134,-0.03,0.7],[138,-0.02,0.72],[142,-0.02,0.74],[146,-0.02,0.7],[149,-0.02,0.7]];
const ch43 = [[-5.5,-0.02,0.6],[-3,-0.02,0.68],[1,-0.03,0.64],[6,-0.04,0.6],[6.5,-0.06,0.04],[16,-0.06,0.05],[26,-0.06,0.04],[36,-0.06,0.05],[46,-0.06,0.04],[56,-0.06,0.05],[66,-0.06,0.04],[76,-0.06,0.05],[86,-0.05,0.04],[88,-0.04,0.1],[91,-0.03,0.6],[93,-0.03,0.7],[96,-0.03,0.7],[100,-0.03,0.76],[104,-0.03,0.7],[108,-0.03,0.7],[112,-0.03,0.72],[116,-0.03,0.74],[120,-0.03,0.68],[124,-0.03,0.68],[128,-0.03,0.7],[132,-0.03,0.76],[136,-0.02,0.7],[140,-0.02,0.7],[144,-0.02,0.74],[149,-0.02,0.72]];
const ch45 = [[-5.5,-0.02,0.55],[-3,-0.02,0.66],[1,-0.03,0.62],[6,-0.04,0.6],[6.5,-0.05,0.05],[16,-0.04,0.06],[26,-0.05,0.05],[36,-0.04,0.06],[46,-0.05,0.05],[56,-0.04,0.06],[66,-0.05,0.05],[76,-0.04,0.06],[86,-0.04,0.05],[87.5,-0.03,0.1],[89,-0.03,0.62],[92,-0.03,0.64],[96,-0.03,0.68],[100,-0.03,0.66],[104,-0.03,0.66],[107,-0.03,0.7],[110,-0.03,0.76],[113,-0.03,0.68],[116,-0.03,0.68],[120,-0.03,0.72],[124,-0.03,0.8],[127,-0.03,0.7],[130,-0.03,0.7],[134,-0.03,0.74],[137,-0.03,0.82],[140,-0.02,0.72],[143,-0.02,0.72],[146,-0.02,0.76],[149,-0.02,0.76]];
const ch47 = [[-5.5,-0.02,0.6],[-3,-0.02,0.72],[0,-0.03,0.5],[2,-0.03,0.66],[6,-0.04,0.6],[6.5,-0.05,0.05],[16,-0.04,0.06],[26,-0.05,0.05],[36,-0.04,0.06],[46,-0.05,0.05],[56,-0.04,0.06],[66,-0.05,0.05],[76,-0.04,0.06],[86,-0.04,0.05],[88.5,-0.03,0.08],[90,-0.03,0.64],[93,-0.03,0.68],[97,-0.03,0.72],[101,-0.03,0.68],[105,-0.03,0.68],[109,-0.03,0.7],[113,-0.03,0.76],[117,-0.03,0.7],[121,-0.03,0.7],[125,-0.03,0.72],[129,-0.03,0.74],[133,-0.02,0.7],[137,-0.02,0.7],[140,-0.02,0.72],[143,-0.02,0.76],[146,-0.02,0.72],[149,-0.02,0.72]];

const SERIES = [ch0, ch1, ch2, ch3, ch4, ch5, ch6, ch7, ch8, ch9, ch10, ch11, ch12, ch13, ch14, ch15,
  ch16, ch17, ch18, ch19, ch20, ch21, ch22, ch23, ch24, ch25, ch26, ch27, ch28, ch29, ch30, ch31,
  ch32, ch33, ch34, ch35, ch36, ch37, ch38, ch39, ch40, ch41, ch42, ch43, ch44, ch45, ch46, ch47];

const ROWS = [
  [0, 2, 4, 6, 8, 10, 12, 14],
  [16, 18, 20, 22, 24, 26, 28, 30],
  [32, 34, 36, 38, 40, 42, 44, 46],
  [1, 3, 5, 7, 9, 11, 13, 15],
  [17, 19, 21, 23, 25, 27, 29, 31],
  [33, 35, 37, 39, 41, 43, 45, 47],
];
const DISCONNECTED = [40];
const STRAW_MISSING = [15, 21];

// ---------- layout / style ----------
const GREEN = '#107c10';
const BLUE = '#1536f5';
const BLACK = '#000000';
const BOX_W = 120;
const BOX_H = 59;
const COL_X0 = 116;
const COL_STEP = 171.6;
const ROW_TOPS = [112, 254, 396, 548, 690, 832];
const Y_AXIS_W = 50;
const X_AXIS_H = 55;
const MT = 2;
const MR = 4;
const DOMAIN_A = [28, 169];
const DOMAIN_B = [-11.5, 156];
const Y_DOMAIN = [-0.2, 1.2];
const MPL_FONT = 'DejaVu Sans, sans-serif';
const PPT_FONT = 'Lato, Carlito, Calibri, sans-serif';

const makeXTick = (ticks: number[], labels: string[]) => (props: any) => {
  const { x, y, payload } = props;
  const i = ticks.indexOf(payload.value);
  return (
    <text x={x} y={y} dy="0.35em" transform={`rotate(90, ${x}, ${y})`} textAnchor="start"
      fontSize={8.7} fontFamily={MPL_FONT} fill="#000">{labels[i]}</text>
  );
};
const tickA = makeXTick(TICKS_A, TICK_LABELS_A);
const tickB = makeXTick(TICKS_B, TICK_LABELS_B);
const yTick = (props: any) => {
  const { x, y, payload } = props;
  const i = Y_TICKS.indexOf(payload.value);
  return (
    <text x={x} y={y} dy="0.36em" textAnchor="end" fontSize={13.5} fontFamily={MPL_FONT} fill="#000">{Y_TICK_LABELS[i]}</text>
  );
};
const yLabel = (props: any) => {
  const vb = props.viewBox || {};
  const cx = (vb.x || 0) + 15;
  const cy = (vb.y || 0) + (vb.height || 0) / 2;
  return (
    <text x={cx} y={cy} dy="0.36em" transform={`rotate(-90, ${cx}, ${cy})`} textAnchor="middle"
      fontSize={13} fontFamily={MPL_FONT} fill="#000">nA</text>
  );
};

function Panel({ ch, left, top, groupA }: { ch: number; left: number; top: number; groupA: boolean }) {
  const rows = SERIES[ch].map(([t, lo, hi]) => ({ t, band: [lo, hi] }));
  const domain = groupA ? DOMAIN_A : DOMAIN_B;
  const color = DISCONNECTED.includes(ch) ? BLACK : STRAW_MISSING.includes(ch) ? BLUE : GREEN;
  return (
    <div style={{ position: 'absolute', left: left - Y_AXIS_W, top: top - MT }}>
      <ComposedChart width={Y_AXIS_W + BOX_W + MR} height={MT + BOX_H + X_AXIS_H} data={rows}
        margin={{ top: MT, right: MR, bottom: 0, left: 0 }}>
        <XAxis dataKey="t" type="number" domain={domain} allowDataOverflow ticks={groupA ? TICKS_A : TICKS_B}
          interval={0} height={X_AXIS_H} tickSize={4} tickMargin={8} axisLine={false}
          tickLine={{ stroke: '#000' }} tick={groupA ? tickA : tickB} />
        <YAxis type="number" domain={Y_DOMAIN} allowDataOverflow ticks={Y_TICKS} interval={0}
          width={Y_AXIS_W} tickSize={6} tickMargin={4} axisLine={false} tickLine={{ stroke: '#000' }}
          tick={yTick} label={{ content: yLabel }} />
        <Area dataKey="band" type="linear" stroke={color} strokeWidth={1.4} fill={color} fillOpacity={1}
          isAnimationActive={false} dot={false} activeDot={false} />
        <ReferenceArea x1={domain[0]} x2={domain[1]} y1={Y_DOMAIN[0]} y2={Y_DOMAIN[1]}
          fill="none" fillOpacity={0} stroke="#000" strokeWidth={1} ifOverflow="visible" />
      </ComposedChart>
    </div>
  );
}

export default function App() {
  return (
    <div style={{ position: 'absolute', left: 0, top: 0, width: 1736, height: 968, background: '#fff', overflow: 'hidden' }}>
      <svg width={1736} height={968} style={{ position: 'absolute', left: 0, top: 0 }}>
        <text x={11} y={70} fontSize={50} fontFamily={PPT_FONT} fill="#000">MN220 QC table</text>
        <text transform="translate(56,295) rotate(-90)" textAnchor="middle" fontSize={32} fontFamily={PPT_FONT} fill="#000">Ch0 of cramps</text>
        <text transform="translate(57,719) rotate(-90)" textAnchor="middle" fontSize={32} fontFamily={PPT_FONT} fill="#000">Ch1 of cramps</text>
        {ROWS.map((row, r) => row.map((ch, c) => (
          <text key={`t${ch}`} x={COL_X0 + c * COL_STEP + BOX_W / 2} y={ROW_TOPS[r] - 9.5} textAnchor="middle"
            fontSize={17.5} fontFamily={MPL_FONT} fill="#000">{`channel ${ch}`}</text>
        )))}
        <circle cx={1517} cy={140} r={9} fill="#22a852" stroke="#41608f" strokeWidth={1.5} />
        <text x={1540} y={150} fontSize={32} fontFamily={PPT_FONT} fill="#000">normal</text>
        <circle cx={1518} cy={244} r={9} fill="#000" stroke="#41608f" strokeWidth={1.5} />
        <text x={1541} y={253} fontSize={32} fontFamily={PPT_FONT} fill="#000">Disconnect</text>
        <text x={1541} y={291} fontSize={32} fontFamily={PPT_FONT} fill="#000">due to high</text>
        <text x={1541} y={330} fontSize={32} fontFamily={PPT_FONT} fill="#000">current</text>
        <circle cx={1517} cy={393} r={9} fill="#1a56e8" stroke="#41608f" strokeWidth={1.5} />
        <text x={1538} y={404} fontSize={32} fontFamily={PPT_FONT} fill="#000">straw missing</text>
        <rect x={1732} y={0} width={2} height={968} fill="#d9d9d9" />
      </svg>
      {ROWS.map((row, r) => row.map((ch, c) => (
        <Panel key={ch} ch={ch} left={COL_X0 + c * COL_STEP} top={ROW_TOPS[r]} groupA={r < 3} />
      )))}
    </div>
  );
}
